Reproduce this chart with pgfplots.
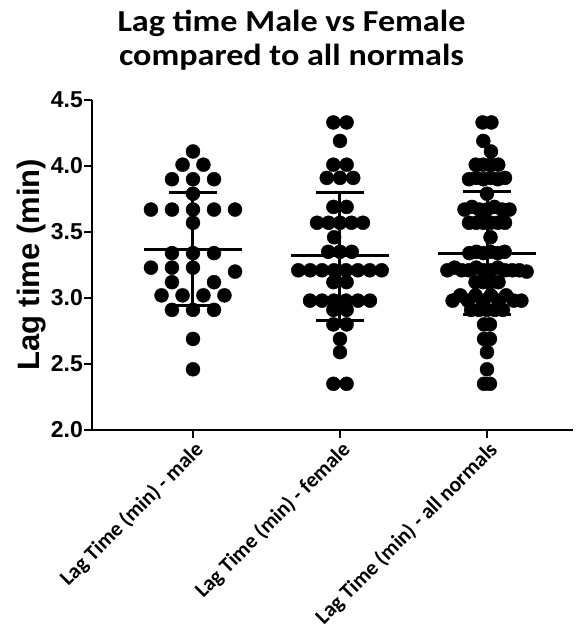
\documentclass[border=0pt]{standalone}
\usepackage{pgfplots}
\pgfplotsset{compat=1.18}
\usepackage{fontspec}
\setmainfont{Liberation Sans}
\newfontfamily\calibri{Carlito}
\newfontfamily\calibriwide[FakeStretch=1.12]{Carlito}

\pgfplotstableread{
x y
0 4.11
-0.071 4.01
0.071 4.01
-0.143 3.90
0 3.90
0.143 3.90
0 3.79
-0.286 3.67
-0.143 3.67
0 3.67
0.143 3.67
0.286 3.67
0 3.57
-0.143 3.34
0 3.34
0.143 3.34
-0.286 3.23
-0.143 3.23
0 3.23
0.286 3.20
-0.143 3.12
0.143 3.12
-0.214 3.02
-0.071 3.02
0.071 3.02
0.214 3.02
-0.143 2.91
0 2.91
0.143 2.91
0 2.69
0 2.46
}\male

\pgfplotstableread{
x y
0.955 4.33
1.045 4.33
1 4.19
0.955 4.01
1.045 4.01
0.91 3.91
1 3.91
1.09 3.91
0.955 3.69
1.045 3.69
0.844 3.57
0.922 3.57
1 3.57
1.078 3.57
1.156 3.57
0.96 3.46
0.92 3.35
1 3.35
1.08 3.35
0.7165 3.21
0.7975 3.21
0.8785 3.21
0.9595 3.21
1.0405 3.21
1.1215 3.21
1.2025 3.21
1.2835 3.21
0.955 3.12
1.045 3.12
0.796 2.98
0.878 2.98
0.959 2.98
1.041 2.98
1.122 2.98
1.204 2.98
0.955 2.91
1.045 2.91
0.955 2.80
1.045 2.80
1 2.69
1 2.59
0.955 2.35
1.045 2.35
}\female

\pgfplotstableread{
x y
1.97 4.33
2.03 4.33
1.975 4.19
2.027 4.11
1.9235 4.01
1.9745 4.01
2.0255 4.01
2.0765 4.01
1.8775 3.90
1.9265 3.91
1.9755 3.90
2.0245 3.91
2.0735 3.90
2.1225 3.91
2 3.79
1.847 3.67
1.898 3.69
1.949 3.67
2 3.67
2.051 3.69
2.102 3.67
2.153 3.67
1.8775 3.57
1.9265 3.57
1.9755 3.57
2.0245 3.57
2.0735 3.57
2.1225 3.57
2.024 3.46
1.88 3.34
1.928 3.35
1.976 3.34
2.024 3.35
2.072 3.34
2.12 3.35
1.7305 3.21
1.7795 3.23
1.8285 3.21
1.8775 3.21
1.9265 3.23
1.9755 3.21
2.0245 3.21
2.0735 3.23
2.1225 3.21
2.1715 3.21
2.2205 3.21
2.2695 3.20
1.922 3.12
1.974 3.12
2.026 3.12
2.078 3.12
1.766 2.98
1.818 3.02
1.87 2.98
1.922 3.02
1.974 2.98
2.026 3.02
2.078 2.98
2.13 3.02
2.182 2.98
2.234 2.98
1.892 2.91
1.946 2.91
2 2.91
2.054 2.91
2.108 2.91
1.98 2.80
2.02 2.80
1.98 2.69
2.02 2.69
2 2.59
2 2.46
1.98 2.35
2.02 2.35
}\allnorm

\begin{document}
\begin{tikzpicture}
\path[use as bounding box] (-92pt,-203pt) rectangle (493pt,430pt);
\node[anchor=base, font=\calibriwide\bfseries\fontsize{30.5}{30.5}\selectfont] at (199.5pt,398.3pt) {Lag time Male vs Female};
\node[anchor=base, font=\calibriwide\bfseries\fontsize{30.5}{30.5}\selectfont] at (199.5pt,365pt) {compared to all normals};
\begin{axis}[
  at={(0pt,0pt)}, anchor=south west,
  scale only axis, width=481pt, height=330pt,
  xmin=-0.687, xmax=2.585, ymin=2, ymax=4.5,
  axis x line=bottom, axis y line=left,
  axis line style={line width=2.5pt, -},
  tick style={line width=2.5pt, black},
  major tick length=8pt, tick align=outside,
  xtick={0,1,2},
  xticklabels={Lag Time (min) - male, Lag Time (min) - female, Lag Time (min) - all normals},
  xticklabel style={rotate=45, anchor=north east, inner sep=1pt, font=\calibri\bfseries\fontsize{21.5}{21.5}\selectfont},
  ytick={2,2.5,3,3.5,4,4.5},
  yticklabel style={inner xsep=1pt, font=\bfseries\fontsize{23}{23}\selectfont,
    /pgf/number format/fixed, /pgf/number format/fixed zerofill,
    /pgf/number format/precision=1, /pgf/number format/assume math mode=true},
  ylabel={Lag time (min)},
  ylabel style={font=\bfseries\fontsize{31}{31}\selectfont},
  clip=false,
]
\addplot[only marks, mark=*, mark size=7pt, black] table[x=x,y=y] {\male};
\addplot[only marks, mark=*, mark size=7pt, black] table[x=x,y=y] {\female};
\addplot[only marks, mark=*, mark size=7pt, black] table[x=x,y=y] {\allnorm};
% male mean +/- SD
\addplot[black, line width=3pt] coordinates {(-0.332,3.37) (0.332,3.37)};
\addplot[black, line width=3pt] coordinates {(-0.166,3.80) (0.166,3.80)};
\addplot[black, line width=3pt] coordinates {(-0.166,2.94) (0.166,2.94)};
\addplot[black, line width=3pt] coordinates {(0,2.94) (0,3.80)};
% female
\addplot[black, line width=3pt] coordinates {(0.668,3.32) (1.332,3.32)};
\addplot[black, line width=3pt] coordinates {(0.834,3.80) (1.166,3.80)};
\addplot[black, line width=3pt] coordinates {(0.834,2.83) (1.166,2.83)};
\addplot[black, line width=3pt] coordinates {(1,2.83) (1,3.80)};
% all normals
\addplot[black, line width=3pt] coordinates {(1.668,3.34) (2.332,3.34)};
\addplot[black, line width=3pt] coordinates {(1.834,3.805) (2.166,3.805)};
\addplot[black, line width=3pt] coordinates {(1.834,2.875) (2.166,2.875)};
\addplot[black, line width=3pt] coordinates {(2,2.875) (2,3.805)};
\end{axis}
\end{tikzpicture}
\end{document}
